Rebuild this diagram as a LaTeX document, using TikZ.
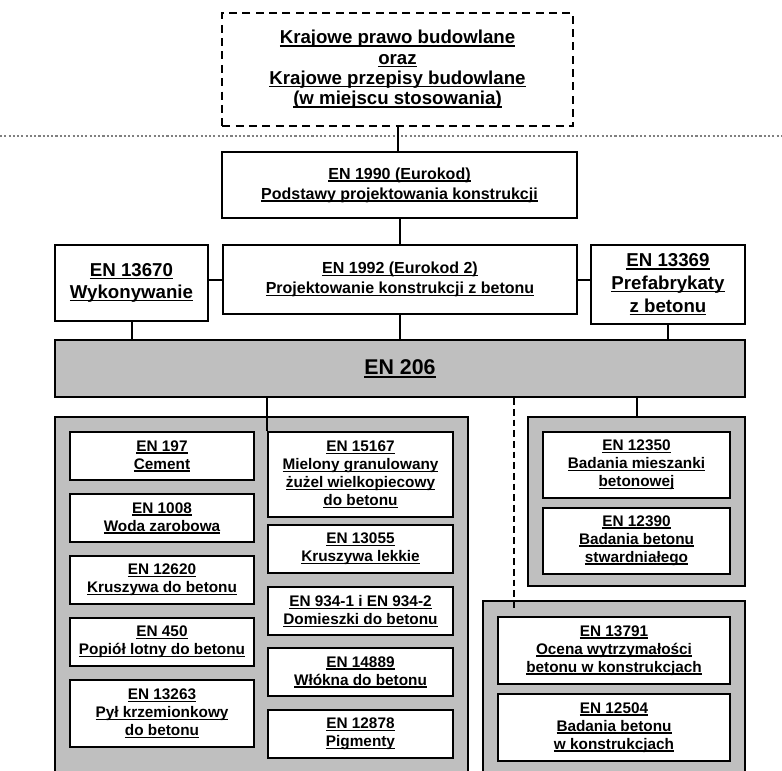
\documentclass[tikz,border=0pt]{standalone}
\usepackage{fontspec}
\setmainfont{Liberation Sans}
\usepackage{tikz}
\definecolor{szary}{RGB}{191,191,191}
\newcommand{\und}[1]{\setbox0\hbox{#1}\rlap{\rule[-0.15em]{\wd0}{0.075em}}\box0}

\begin{document}
\begin{tikzpicture}[x=0.75pt, y=-0.75pt,
  norma/.style={draw, fill=white, line width=1.5pt, align=center, inner sep=0pt,
    font=\bfseries\fontsize{11.5}{13.5}\selectfont},
  duza/.style={norma, font=\bfseries\fontsize{14}{16.5}\selectfont},
  grupa/.style={draw, fill=szary, line width=1.5pt, inner sep=0pt}]

\useasboundingbox (0,0) rectangle (782,771);
\clip (0,0) rectangle (782,771);

\draw[gray, line width=2.2pt, dash pattern=on 1.6pt off 1.6pt] (0,136) -- (782,136);

\path
  node[norma, dashed, dash pattern=on 6pt off 4pt, minimum width=263pt, minimum height=85pt,
    font=\bfseries\fontsize{14}{15.2}\selectfont] (prawo) at (397.5,69.5)
    {\und{Krajowe prawo budowlane}\\\und{oraz}\\\und{Krajowe przepisy budowlane}\\\und{(w miejscu stosowania)}}
  node[norma, minimum width=266pt, minimum height=49.5pt, font=\bfseries\fontsize{12}{15}\selectfont] (en1990) at (399.5,185)
    {\und{EN 1990 (Eurokod)}\\\und{Podstawy projektowania konstrukcji}}
  node[norma, minimum width=265.5pt, minimum height=52pt, font=\bfseries\fontsize{12}{14.5}\selectfont] (en1992) at (400,279.5)
    {\und{EN 1992 (Eurokod 2)}\\\und{Projektowanie konstrukcji z betonu}}
  node[duza, minimum width=115pt, minimum height=57pt] (en13670) at (131.5,283)
    {\und{EN 13670}\\\und{Wykonywanie}}
  node[duza, minimum width=115.5pt, minimum height=59pt, font=\bfseries\fontsize{14}{17}\selectfont] (en13369) at (668,284.5)
    {\und{EN 13369}\\\und{Prefabrykaty}\\\und{z betonu}}
  node[norma, fill=szary, minimum width=517.5pt, minimum height=43pt, font=\bfseries\fontsize{16}{18}\selectfont] (en206) at (400,368.5)
    {\und{EN 206}};

% grupy
\path
  node[grupa, minimum width=310pt, minimum height=279.75pt] (grupaMat) at (261.5,603.5) {}
  node[grupa, minimum width=163pt, minimum height=127pt] (grupaBad) at (636.5,501.5) {}
  node[grupa, minimum width=196.5pt, minimum height=142pt] (grupaKon) at (614,695.5) {};

% materialy
\path [every node/.style={norma, minimum width=138pt, minimum height=36pt}]
  node (en197) at (162,456) {\und{EN 197}\\\und{Cement}}
  node (en1008) at (162,518) {\und{EN 1008}\\\und{Woda zarobowa}}
  node (en12620) at (162,580) {\und{EN 12620}\\\und{Kruszywa do betonu}}
  node (en450) at (162,642) {\und{EN 450}\\\und{Popiół lotny do betonu}}
  node[minimum height=50pt] (en13263) at (162,713.5) {\und{EN 13263}\\\und{Pył krzemionkowy}\\\und{do betonu}}
  [every node/.append style={minimum width=139pt}]
  node[minimum height=64pt] (en15167) at (360.5,474.5)
    {\und{EN 15167}\\\und{Mielony granulowany}\\\und{żużel wielkopiecowy}\\\und{do betonu}}
  node (en13055) at (360.5,549) {\und{EN 13055}\\\und{Kruszywa lekkie}}
  node (en934) at (360.5,611) {\und{EN 934-1 i EN 934-2}\\\und{Domieszki do betonu}}
  node (en14889) at (360.5,672) {\und{EN 14889}\\\und{Włókna do betonu}}
  node (en12878) at (360.5,734) {\und{EN 12878}\\\und{Pigmenty}};

% badania
\path [every node/.style={norma, minimum width=140pt, minimum height=49.5pt}]
  node (en12350) at (636.5,465) {\und{EN 12350}\\\und{Badania mieszanki}\\\und{betonowej}}
  node (en12390) at (636.5,540.5) {\und{EN 12390}\\\und{Badania betonu}\\\und{stwardniałego}}
  [every node/.append style={minimum width=174pt, minimum height=50pt}]
  node (en13791) at (614,650.5) {\und{EN 13791}\\\und{Ocena wytrzymałości}\\\und{betonu w konstrukcjach}}
  node (en12504) at (614,727.5) {\und{EN 12504}\\\und{Badania betonu}\\\und{w konstrukcjach}};

\coordinate (kreska) at ([xshift=24pt]grupaKon.north west);

\begin{scope}[line width=1.5pt]
	% gora
	\draw (prawo.south) -- (prawo.south |- en1990.north);
	\draw (en1990.south) -- (en1990.south |- en1992.north);
	\draw (en1992.west) -- (en1992.west -| en13670.east);
	\draw (en1992.east) -- (en1992.east -| en13369.west);
	% do EN 206
	\draw (en13670.south) -- (en13670.south |- en206.north);
	\draw (en1992.south) -- (en206.north);
	\draw (en13369.south) -- (en13369.south |- en206.north);
	% dol
	\draw (en206.south -| en15167.north west) -- (en15167.north west);
	\draw (en206.south -| grupaBad.north) -- (grupaBad.north);
	\draw[dash pattern=on 5pt off 3pt] (kreska |- en206.south) -- ([yshift=-7pt]kreska);
\end{scope}

\end{tikzpicture}
\end{document}
